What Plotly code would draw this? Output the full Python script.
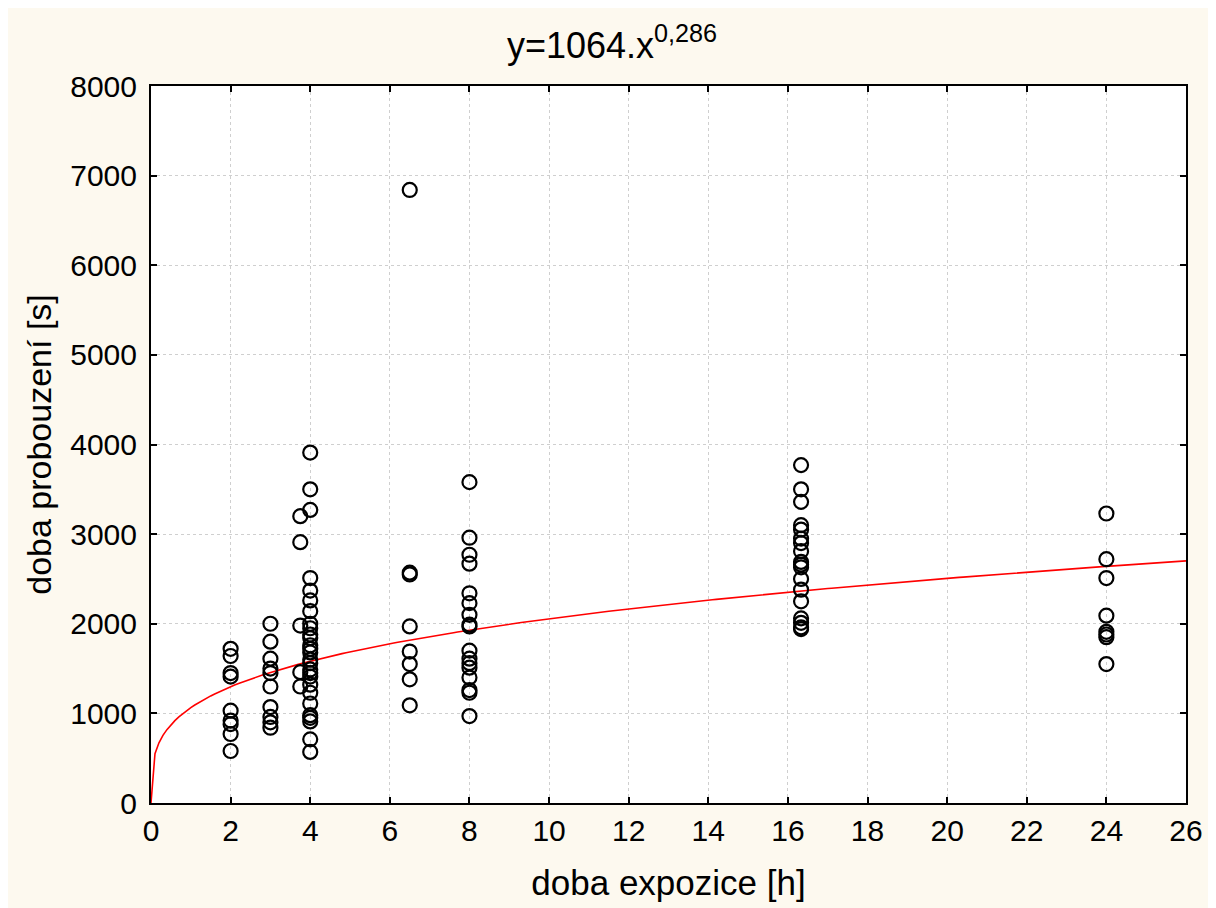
import numpy as np
import plotly.graph_objects as go

# ---- data ----
x_2 = [2] * 9
y_2 = [1720, 1640, 1450, 1410, 1030, 920, 880, 770, 580]
x_3 = [3] * 10
y_3 = [2000, 1800, 1610, 1500, 1450, 1300, 1070, 960, 900, 840]
x_375 = [3.75] * 5
y_375 = [3200, 2910, 1980, 1460, 1300]
x_4 = [4] * 27
y_4 = [3910, 3500, 3270, 2510, 2370, 2260, 2140, 2000, 1950, 1880, 1840, 1760,
       1720, 1680, 1600, 1560, 1490, 1450, 1410, 1320, 1230, 1110, 980, 950,
       910, 710, 570]
x_65 = [6.5] * 8
y_65 = [6840, 2570, 2550, 1970, 1690, 1550, 1380, 1090]
x_8 = [8] * 17
y_8 = [3580, 2960, 2770, 2670, 2340, 2230, 2100, 1990, 1970, 1700, 1610, 1560,
       1510, 1400, 1260, 1230, 970]
x_16 = [16.33] * 18
y_16 = [3770, 3500, 3360, 3100, 3050, 2950, 2900, 2810, 2690, 2660, 2630, 2500,
        2380, 2250, 2060, 2010, 1960, 1940]
x_24 = [24] * 8
y_24 = [3230, 2720, 2510, 2090, 1910, 1880, 1850, 1550]

fit_a = 1064
fit_b = 0.286
title_text = "y=1064.x<sup>0,286</sup>"
x_title = "doba expozice [h]"
y_title = "doba probouzení [s]"
x_ticks = list(range(0, 27, 2))
y_ticks = list(range(0, 8001, 1000))

xs = x_2 + x_3 + x_375 + x_4 + x_65 + x_8 + x_16 + x_24
ys = y_2 + y_3 + y_375 + y_4 + y_65 + y_8 + y_16 + y_24

curve_x = np.linspace(0, 26, 261)
curve_y = fit_a * np.power(curve_x, fit_b)

FONT = "Liberation Sans, Arial, sans-serif"
CREAM = "#FDF9EF"

fig = go.Figure()
fig.add_trace(go.Scatter(
    x=curve_x, y=curve_y, mode="lines",
    line=dict(color="#FF0000", width=1.6), hoverinfo="skip", showlegend=False))
fig.add_trace(go.Scatter(
    x=xs, y=ys, mode="markers",
    marker=dict(symbol="circle-open", size=14, color="black",
                line=dict(width=2.2, color="black")),
    showlegend=False))

W, H = 1216, 908
L, R, T, B = 143, 38, 78, 113

fig.update_layout(
    width=W, height=H,
    margin=dict(l=L, r=R, t=T, b=B),
    paper_bgcolor=CREAM, plot_bgcolor="white",
    font=dict(family=FONT, color="black", size=30),
    title=dict(text=title_text, x=604 / W, xanchor="center",
               y=1 - 37 / H, yanchor="middle",
               font=dict(family=FONT, size=36, color="black")),
    showlegend=False,
)
fig.update_xaxes(
    range=[0, 26], tickvals=x_ticks, ticktext=[str(v) for v in x_ticks],
    showline=True, linecolor="black", linewidth=2, mirror="ticks",
    ticks="inside", ticklen=6, tickwidth=1.5, tickcolor="black",
    showgrid=True, gridcolor="#CFCFCF", griddash="dot", gridwidth=1,
    zeroline=False, tickfont=dict(size=30, family=FONT),
    title=dict(text=x_title, font=dict(size=35, family=FONT), standoff=24),
)
fig.update_yaxes(
    range=[0, 8000], tickvals=y_ticks, ticktext=[str(v) for v in y_ticks],
    showline=True, linecolor="black", linewidth=2, mirror="ticks",
    ticks="inside", ticklen=6, tickwidth=1.5, tickcolor="black",
    ticklabelstandoff=6,
    showgrid=True, gridcolor="#CFCFCF", griddash="dot", gridwidth=1,
    zeroline=False, tickfont=dict(size=30, family=FONT),
    title=dict(text=y_title, font=dict(size=34, family=FONT), standoff=8),
)

fig.write_html("out.html")
